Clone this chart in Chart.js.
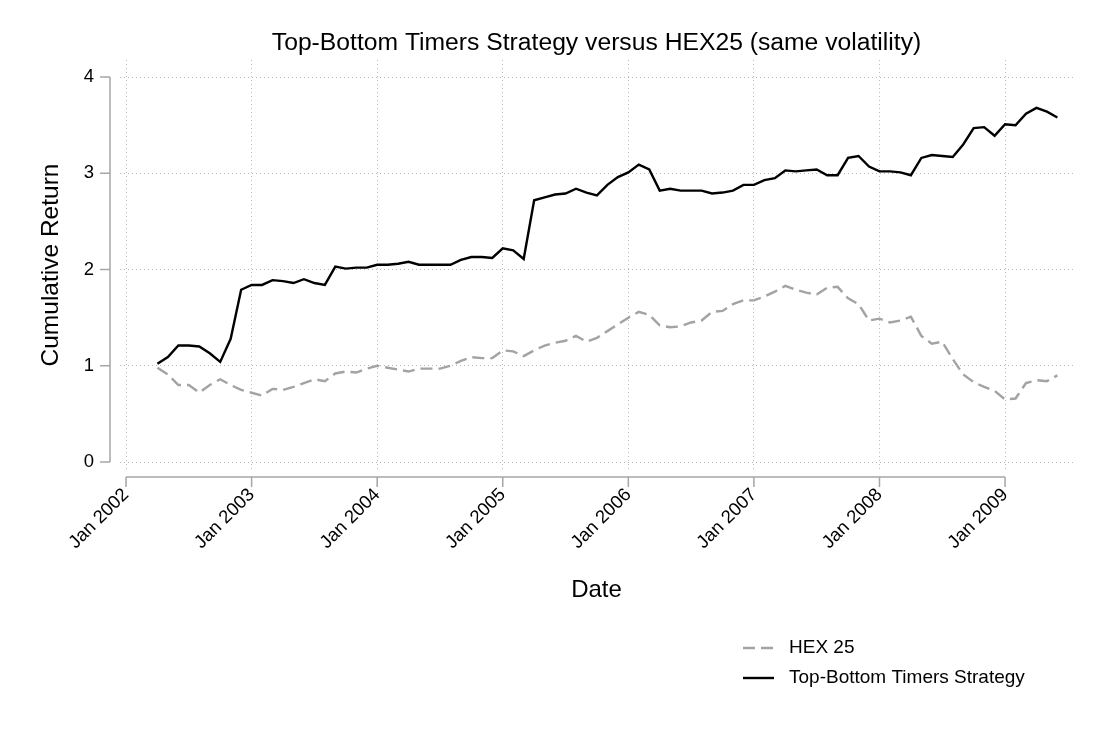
<!DOCTYPE html>
<html>
<head>
<meta charset="utf-8">
<title>Top-Bottom Timers Strategy versus HEX25</title>
<script src="https://cdn.jsdelivr.net/npm/chart.js@4.4.0/dist/chart.umd.min.js"></script>
<style>
  html, body { margin: 0; padding: 0; background: #fff; }
</style>
</head>
<body>
<canvas id="chart" width="1100" height="733"></canvas>
<script>
// monthly series, first observation April 2002, last June 2009
const firstYear = 2002
const firstMonth = 4

const strategy = [
  1.02, 1.09, 1.21, 1.21, 1.20, 1.13, 1.04, 1.28, 1.79,
  1.84, 1.84, 1.89, 1.88, 1.86, 1.90, 1.86, 1.84, 2.03, 2.01, 2.02, 2.02,
  2.05, 2.05, 2.06, 2.08, 2.05, 2.05, 2.05, 2.05, 2.10, 2.13, 2.13, 2.12,
  2.22, 2.20, 2.11, 2.72, 2.75, 2.78, 2.79, 2.84, 2.80, 2.77, 2.88, 2.96,
  3.01, 3.09, 3.04, 2.82, 2.84, 2.82, 2.82, 2.82, 2.79, 2.80, 2.82, 2.88,
  2.88, 2.93, 2.95, 3.03, 3.02, 3.03, 3.04, 2.98, 2.98, 3.16, 3.18, 3.07,
  3.02, 3.02, 3.01, 2.98, 3.16, 3.19, 3.18, 3.17, 3.30, 3.47, 3.48, 3.39,
  3.51, 3.50, 3.62, 3.68, 3.64, 3.58
]

const hex25 = [
  0.98, 0.91, 0.80, 0.80, 0.72, 0.80, 0.86, 0.80, 0.75,
  0.72, 0.69, 0.76, 0.75, 0.78, 0.82, 0.86, 0.84, 0.92, 0.94, 0.93, 0.97,
  1.00, 0.98, 0.96, 0.94, 0.97, 0.97, 0.97, 1.00, 1.05, 1.09, 1.08, 1.08,
  1.16, 1.15, 1.10, 1.16, 1.21, 1.24, 1.26, 1.31, 1.25, 1.29, 1.36, 1.43,
  1.50, 1.56, 1.53, 1.42, 1.40, 1.41, 1.45, 1.47, 1.56, 1.57, 1.64, 1.68,
  1.68, 1.72, 1.77, 1.83, 1.79, 1.76, 1.74, 1.81, 1.82, 1.70, 1.64, 1.47,
  1.49, 1.45, 1.47, 1.51, 1.31, 1.23, 1.25, 1.07, 0.91, 0.83, 0.78, 0.74,
  0.65, 0.66, 0.82, 0.85, 0.84, 0.90
]

const xTickYears = [2002, 2003, 2004, 2005, 2006, 2007, 2008, 2009]
const yTicks = [0, 1, 2, 3, 4]

// month i of the series as a decimal year (Jan = .0)
const months = strategy.map((_, i) => firstYear + (firstMonth - 1 + i) / 12)
const toPoints = (vals) => vals.map((v, i) => ({ x: months[i], y: v }))

const axisColor = '#a6a6a6'
const gridColor = '#b8b8b8'
const hexColor = '#a3a3a3'
const fontFamily = "'Liberation Sans', Arial, Helvetica, sans-serif"

Chart.defaults.font.family = fontFamily
Chart.defaults.color = '#000'

// stata-style axes: lines stand off from the plot region and span first..last tick
const stataAxes = {
  id: 'stataAxes',
  afterDraw(chart) {
    const { ctx, chartArea } = chart
    const x = chart.scales.x
    const y = chart.scales.y
    ctx.save()
    ctx.strokeStyle = axisColor
    ctx.lineWidth = 1.5
    ctx.setLineDash([])

    const ax = chartArea.left - 10
    ctx.beginPath()
    ctx.moveTo(ax, y.getPixelForValue(yTicks[0]))
    ctx.lineTo(ax, y.getPixelForValue(yTicks[yTicks.length - 1]))
    yTicks.forEach((v) => {
      const p = y.getPixelForValue(v)
      ctx.moveTo(ax, p)
      ctx.lineTo(ax - 10, p)
    })

    const ay = chartArea.bottom + 7
    ctx.moveTo(x.getPixelForValue(xTickYears[0]), ay)
    ctx.lineTo(x.getPixelForValue(xTickYears[xTickYears.length - 1]), ay)
    xTickYears.forEach((v) => {
      const p = x.getPixelForValue(v)
      ctx.moveTo(p, ay)
      ctx.lineTo(p, ay + 10)
    })
    ctx.stroke()
    ctx.restore()
  }
}

// legend stacked in a column under the right part of the plot
const columnLegend = {
  id: 'columnLegend',
  afterDraw(chart) {
    const ctx = chart.ctx
    const x0 = 743
    let yy = 648
    ctx.save()
    ctx.font = '19px ' + fontFamily
    ctx.textBaseline = 'middle'
    ctx.textAlign = 'left'
    chart.data.datasets.forEach((ds) => {
      ctx.strokeStyle = ds.borderColor
      ctx.lineWidth = ds.borderWidth
      ctx.setLineDash(ds.borderDash || [])
      ctx.beginPath()
      ctx.moveTo(x0, yy)
      ctx.lineTo(x0 + 31, yy)
      ctx.stroke()
      ctx.fillStyle = '#000'
      ctx.fillText(ds.label, x0 + 46, yy)
      yy += 30
    })
    ctx.restore()
  }
}

new Chart(document.getElementById('chart'), {
  type: 'line',
  data: {
    datasets: [
      {
        label: 'HEX 25',
        data: toPoints(hex25),
        borderColor: hexColor,
        borderWidth: 2.4,
        borderDash: [12, 6],
        pointRadius: 0,
        tension: 0,
      },
      {
        label: 'Top-Bottom Timers Strategy',
        data: toPoints(strategy),
        borderColor: '#000',
        borderWidth: 2.4,
        pointRadius: 0,
        tension: 0,
      },
    ],
  },
  options: {
    responsive: false,
    animation: false,
    layout: { padding: { left: 0, right: 27, top: 0, bottom: 120 } },
    plugins: {
      legend: { display: false },
      tooltip: { enabled: false },
      title: {
        display: true,
        fullSize: false,
        text: 'Top-Bottom Timers Strategy versus HEX25 (same volatility)',
        color: '#000',
        font: { size: 24.7, weight: 'normal' },
        padding: { top: 28, bottom: 2.4 },
      },
    },
    scales: {
      x: {
        type: 'linear',
        min: 2001.952,
        max: 2009.541,
        afterBuildTicks: (s) => { s.ticks = xTickYears.map((v) => ({ value: v })) },
        afterFit: (s) => { s.height = 143 },
        grid: { color: gridColor, lineWidth: 1, drawTicks: false },
        border: { display: false, dash: [1, 3] },
        ticks: {
          autoSkip: false,
          minRotation: 45,
          maxRotation: 45,
          padding: 14,
          labelOffset: 0,
          font: { size: 18.5 },
          color: '#000',
          callback: (v) => 'Jan ' + v,
        },
        title: {
          display: true,
          text: 'Date',
          color: '#000',
          font: { size: 24 },
          padding: { top: 0, bottom: 8.6 },
        },
      },
      y: {
        min: -0.083,
        max: 4.177,
        afterBuildTicks: (s) => { s.ticks = yTicks.map((v) => ({ value: v })) },
        afterFit: (s) => { s.width = 120 },
        grid: { color: gridColor, lineWidth: 1, drawTicks: false },
        border: { display: false, dash: [1, 3] },
        ticks: {
          padding: 26,
          font: { size: 18.5 },
          color: '#000',
        },
        title: {
          display: true,
          text: 'Cumulative Return',
          color: '#000',
          font: { size: 24.5 },
          padding: { top: 36.4, bottom: 0 },
        },
      },
    },
  },
  plugins: [stataAxes, columnLegend],
})
</script>
</body>
</html>
